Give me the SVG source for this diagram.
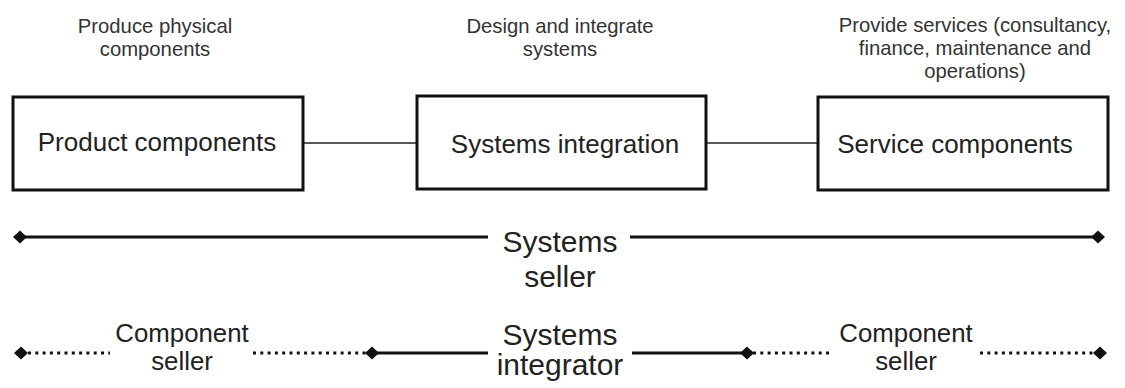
<svg xmlns="http://www.w3.org/2000/svg" width="1125" height="388" viewBox="0 0 1125 388">
<style>
  .box { fill: #fff; stroke: #111; stroke-width: 3; }
  .btxt { font-family: "Liberation Sans", Arial, sans-serif; font-size: 26px; fill: #222; text-anchor: middle; }
  .ttxt { font-family: "Liberation Sans", Arial, sans-serif; font-size: 20.3px; fill: #333; text-anchor: middle; }
  .ltxt { font-family: "Liberation Sans", Arial, sans-serif; font-size: 30px; fill: #222; text-anchor: middle; }
  .ctxt { font-family: "Liberation Sans", Arial, sans-serif; font-size: 25.8px; fill: #222; text-anchor: middle; }
  .thin { stroke: #222; stroke-width: 1.6; fill: none; }
  .solid { stroke: #111; stroke-width: 3; fill: none; }
  .dot { stroke: #111; stroke-width: 3; fill: none; stroke-dasharray: 3 4.3; }
  .dia { fill: #111; }
</style>
<defs>
  <polygon id="diamond" points="0,-6.5 7,0 0,6.5 -7,0"/>
</defs>
<rect width="1125" height="388" fill="#fff"/>

<g id="label-product">
  <text class="ttxt" x="155" y="33">Produce physical</text>
  <text class="ttxt" x="155" y="56">components</text>
</g>
<g id="label-integration">
  <text class="ttxt" x="560" y="33">Design and integrate</text>
  <text class="ttxt" x="560" y="56">systems</text>
</g>
<g id="label-service">
  <text class="ttxt" x="975" y="32">Provide services (consultancy,</text>
  <text class="ttxt" x="975" y="55">finance, maintenance and</text>
  <text class="ttxt" x="975" y="78">operations)</text>
</g>

<g id="connectors">
  <line class="thin" x1="303" y1="143" x2="416" y2="143"/>
  <line class="thin" x1="706" y1="143" x2="817" y2="143"/>
  <!-- Systems seller -->
  <line class="solid" x1="20" y1="237" x2="488" y2="237"/>
  <line class="solid" x1="630" y1="237" x2="1098" y2="237"/>
  <use href="#diamond" class="dia" x="20" y="237"/>
  <use href="#diamond" class="dia" x="1098" y="237"/>
  <!-- bottom row -->
  <line class="dot" x1="28" y1="353" x2="110" y2="353"/>
  <line class="dot" x1="253" y1="353" x2="368" y2="353"/>
  <line class="solid" x1="372" y1="353" x2="488" y2="353"/>
  <line class="solid" x1="632" y1="353" x2="747" y2="353"/>
  <line class="dot" x1="753" y1="353" x2="832" y2="353"/>
  <line class="dot" x1="980" y1="353" x2="1096" y2="353"/>
  <use href="#diamond" class="dia" x="21" y="353"/>
  <use href="#diamond" class="dia" x="372" y="353"/>
  <use href="#diamond" class="dia" x="747" y="353"/>
  <use href="#diamond" class="dia" x="1100" y="353"/>
</g>

<g id="node-product">
  <rect class="box" x="13" y="97" width="290" height="93"/>
  <text class="btxt" x="157" y="151">Product components</text>
</g>
<g id="node-integration">
  <rect class="box" x="417" y="96" width="289" height="93"/>
  <text class="btxt" x="565" y="153">Systems integration</text>
</g>
<g id="node-service">
  <rect class="box" x="818" y="97" width="290" height="93"/>
  <text class="btxt" x="955" y="153">Service components</text>
</g>

<g id="label-systems-seller">
  <text class="ltxt" x="560" y="252">Systems</text>
  <text class="ltxt" x="560" y="287">seller</text>
</g>
<g id="label-component-seller-left">
  <text class="ctxt" x="182" y="342">Component</text>
  <text class="ctxt" x="182" y="370">seller</text>
</g>
<g id="label-systems-integrator">
  <text class="ltxt" x="560" y="345">Systems</text>
  <text class="ltxt" x="560" y="375">integrator</text>
</g>
<g id="label-component-seller-right">
  <text class="ctxt" x="906" y="342">Component</text>
  <text class="ctxt" x="906" y="370">seller</text>
</g>
</svg>
